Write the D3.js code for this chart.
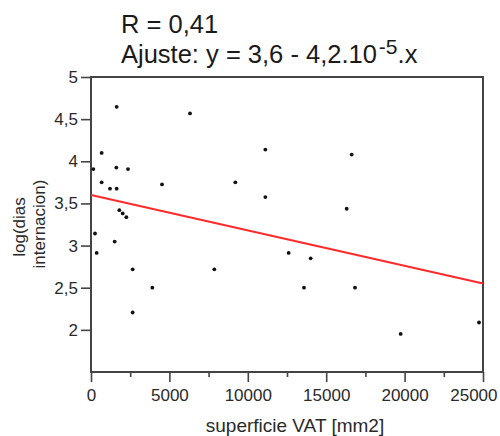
<!DOCTYPE html>
<html>
<head>
<meta charset="utf-8">
<script src="https://cdn.jsdelivr.net/npm/d3@7"></script>
<style>
  html, body { margin: 0; padding: 0; background: #fff; }
  svg { display: block; font-family: "Liberation Sans", Arial, sans-serif; }
</style>
</head>
<body>
<svg id="chart" width="500" height="436"></svg>
<script>
// ---- data ----
const xValues = [1638, 6314, 11118, 680, 150, 1616, 2360, 680, 1212, 1638, 4528, 9205, 11118,
                 16626, 16306,
                 1807, 2020, 2254, 255, 1510, 361, 2657, 7866, 3912, 2657, 12606,
                 14009, 13584, 16837, 19750, 24745];
const yValues = [4.646, 4.568, 4.139, 4.099, 3.908, 3.925, 3.908, 3.75, 3.675, 3.675, 3.726, 3.75, 3.575,
                 4.08, 3.437,
                 3.42, 3.381, 3.337, 3.143, 3.048, 2.913, 2.718, 2.718, 2.5, 2.206, 2.913,
                 2.849, 2.5, 2.5, 1.952, 2.087];
const fitIntercept = 3.6;
const fitSlope = -4.2e-5;
const xTicks = [0, 5000, 10000, 15000, 20000, 25000];
const xMinorTicks = [2500, 7500, 12500, 17500, 22500];
const yTicks = [2, 2.5, 3, 3.5, 4, 4.5, 5];
const titleLine1 = "R = 0,41";
const titleLine2a = "Ajuste: y = 3,6 - 4,2.10";
const titleSup = "-5";
const titleLine2b = ".x";
const xTitle = "superficie VAT [mm2]";
const yTitle1 = "log(dias";
const yTitle2 = "internacion)";

// ---- layout ----
const svg = d3.select("#chart");
const pLeft = 91, pRight = 483, pTop = 77, pBottom = 372;
const x = d3.scaleLinear().domain([0, 25000]).range([pLeft, pRight]);
const y = d3.scaleLinear().domain([1.5, 5]).range([pBottom, pTop]);
const fmt = d => String(d).replace(".", ",");
const textColor = "#2a2a2a";

// axes
const yAxis = svg.append("g").attr("transform", `translate(${pLeft},0)`)
  .call(d3.axisLeft(y).tickValues(yTicks).tickSize(10).tickPadding(3).tickFormat(fmt));
const xAxis = svg.append("g").attr("transform", `translate(0,${pBottom})`)
  .call(d3.axisBottom(x).tickValues(xTicks).tickSize(10).tickPadding(7).tickFormat(d => String(d)));
const xMinor = svg.append("g").attr("transform", `translate(0,${pBottom})`)
  .call(d3.axisBottom(x).tickValues(xMinorTicks).tickSize(5).tickFormat(""));
[yAxis, xAxis, xMinor].forEach(g => {
  g.select(".domain").remove();
  g.selectAll(".tick line").attr("stroke", "#444").attr("stroke-width", 1.6);
  g.selectAll(".tick text").attr("fill", textColor)
    .style("font-family", "'Liberation Sans', Arial, sans-serif").style("font-size", "17px");
});
// last x label is pulled inside the picture, as in the reference
xAxis.selectAll(".tick text").filter(d => d === 25000)
  .attr("text-anchor", "end").attr("x", 14);

// frame
svg.append("rect").attr("x", pLeft).attr("y", pTop)
  .attr("width", pRight - pLeft).attr("height", pBottom - pTop)
  .attr("fill", "none").attr("stroke", "#444").attr("stroke-width", 2);

// fit line
svg.append("line")
  .attr("x1", x(0)).attr("y1", y(fitIntercept))
  .attr("x2", x(25000)).attr("y2", y(fitIntercept + fitSlope * 25000))
  .attr("stroke", "#ff2a2a").attr("stroke-width", 1.8);

// points
svg.append("g").selectAll("circle").data(xValues.map((v, i) => [v, yValues[i]]))
  .join("circle")
  .attr("cx", d => x(d[0])).attr("cy", d => y(d[1]))
  .attr("r", 1.9).attr("fill", "#111");

// titles
svg.append("text").attr("x", 121).attr("y", 33)
  .attr("fill", "#1a1a1a").style("font-size", "25.5px").text(titleLine1);
const t2 = svg.append("text").attr("x", 121).attr("y", 63)
  .attr("fill", "#1a1a1a").style("font-size", "25.5px");
t2.append("tspan").text(titleLine2a);
t2.append("tspan").attr("dx", 2).attr("dy", -9).style("font-size", "21px").text(titleSup);
t2.append("tspan").attr("dy", 9).text(titleLine2b);

svg.append("text").attr("x", 295).attr("y", 432).attr("text-anchor", "middle")
  .attr("fill", textColor).style("font-size", "19px").text(xTitle);

svg.append("text").attr("transform", "translate(25,227) rotate(-90)").attr("text-anchor", "middle")
  .attr("fill", textColor).style("font-size", "17px").text(yTitle1);
svg.append("text").attr("transform", "translate(45,224) rotate(-90)").attr("text-anchor", "middle")
  .attr("fill", textColor).style("font-size", "17px").text(yTitle2);
</script>
</body>
</html>
